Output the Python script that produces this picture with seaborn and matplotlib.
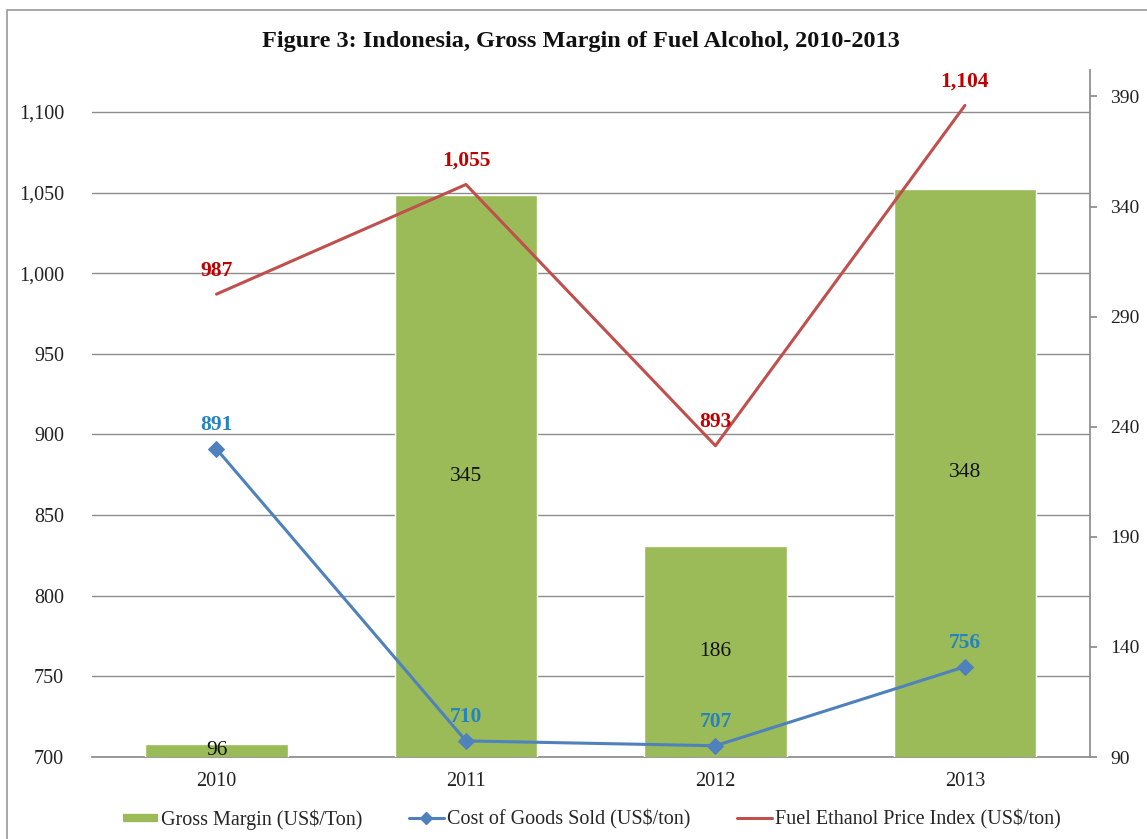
import matplotlib
matplotlib.use("Agg")
import matplotlib.pyplot as plt
import seaborn as sns
import pandas as pd
from matplotlib.patches import Rectangle
from matplotlib.lines import Line2D
from matplotlib.ticker import FuncFormatter

years = ["2010", "2011", "2012", "2013"]
gross_margin = [96, 345, 186, 348]
cogs = [891, 710, 707, 756]
price_index = [987, 1055, 893, 1104]

title = "Figure 3: Indonesia, Gross Margin of Fuel Alcohol, 2010-2013"
legend_labels = ["Gross Margin (US$/Ton)", "Cost of Goods Sold (US$/ton)",
                 "Fuel Ethanol Price Index (US$/ton)"]

GREEN = "#9BBB59"
BLUE = "#4F81BD"
RED = "#C0504D"
BLUE_TXT = "#2583C0"
RED_TXT = "#C00000"
GREY = "#8C8C8C"

sns.set_theme(style="white")
plt.rcParams["font.family"] = ["Liberation Serif", "DejaVu Serif"]

df = pd.DataFrame({"year": years, "gm": gross_margin, "cogs": cogs, "price": price_index})

fig = plt.figure(figsize=(11.47, 8.39), dpi=100)
pos = [0.080, 0.0977, 0.870, 0.8189]

# primary axis: left ticks + grid
ax1 = fig.add_axes(pos)
ax1.set_ylim(700, 1126)
ax1.set_yticks(range(700, 1101, 50))
ax1.yaxis.set_major_formatter(FuncFormatter(lambda v, p: f"{int(v):,}"))
ax1.grid(axis="y", color=GREY, linewidth=1.0)
ax1.grid(axis="x", visible=False)
for s in ["left", "top", "right"]:
    ax1.spines[s].set_visible(False)
ax1.spines["bottom"].set_color(GREY)
ax1.tick_params(axis="y", length=0, labelsize=14.5, pad=20, colors="#222222")
ax1.tick_params(axis="x", length=0, labelsize=14.5, pad=11, colors="#222222")

# bars on secondary (right) axis
ax2 = ax1.twinx()
sns.barplot(data=df, x="year", y="gm", order=years, color=GREEN, saturation=1,
            width=0.57, ax=ax2, zorder=2)
ax2.set_ylim(90, 402)
ax2.set_yticks(range(90, 391, 50))
ax2.set_ylabel("")
ax2.set_xlabel("")
for s in ["left", "top", "bottom"]:
    ax2.spines[s].set_visible(False)
ax2.spines["right"].set_color(GREY)
ax2.tick_params(axis="y", direction="out", length=5, color=GREY, labelsize=14,
                pad=10, colors="#222222", right=True, labelright=True)
ax2.set_xlim(-0.5, 3.5)
ax2.bar_label(ax2.containers[0], label_type="center", fontsize=15.5, color="#111111")

# lines overlay sharing left scale
ax3 = fig.add_axes(pos, sharex=ax1, sharey=ax1, frameon=False)
ax3.patch.set_visible(False)
sns.lineplot(data=df, x="year", y="cogs", color=BLUE, linewidth=2.2, marker="D",
             markersize=8, markeredgecolor=BLUE, ax=ax3, sort=False)
sns.lineplot(data=df, x="year", y="price", color=RED, linewidth=2.2, ax=ax3, sort=False)
ax3.set_xlim(-0.5, 3.5)
ax3.set_ylim(700, 1126)
ax3.set_xlabel("")
ax3.set_ylabel("")
ax3.tick_params(left=False, bottom=False, labelleft=False, labelbottom=False)
ax1.set_xlim(-0.5, 3.5)
ax1.set_xticks(range(len(years)))
ax1.set_xticklabels(years)
ax1.tick_params(axis="x", labelbottom=True)

for i, (c, p) in enumerate(zip(cogs, price_index)):
    ax3.annotate(f"{c:,}", (years[i], c), xytext=(0, 17), textcoords="offset points",
                 ha="center", va="center", fontsize=15.5, fontweight="bold", color=BLUE_TXT)
    ax3.annotate(f"{p:,}", (years[i], p), xytext=(0, 17), textcoords="offset points",
                 ha="center", va="center", fontsize=15.5, fontweight="bold", color=RED_TXT)

ax1.set_ylabel("")
ax1.set_xlabel("")

fig.text(0.506, 0.950, title, ha="center", va="center", fontsize=17.5, fontweight="bold",
         color="#111111")

handles = [Line2D([], [], color=GREEN, linewidth=6, solid_capstyle="butt"),
           Line2D([], [], color=BLUE, linewidth=2.2, marker="D", markersize=6.5),
           Line2D([], [], color=RED, linewidth=2.2)]
fig.legend(handles, legend_labels, loc="center", bbox_to_anchor=(0.516, 0.023), ncol=3,
           frameon=False, fontsize=14.5, handlelength=1.75, handletextpad=0.15,
           columnspacing=2.3)

fig.patches.append(Rectangle((0.006, -0.05), 1.2, 1.038, transform=fig.transFigure,
                             fill=False, edgecolor="#999999", linewidth=1.2))

fig.savefig("out.png", dpi=100)
